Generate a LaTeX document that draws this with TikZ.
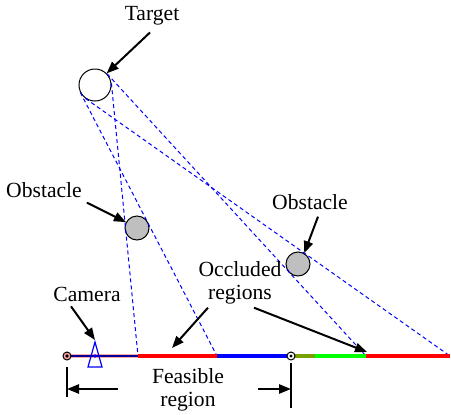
\documentclass[tikz,border=0pt]{standalone}
\usepackage{fontspec}
\setmainfont{Liberation Serif}
\usetikzlibrary{positioning, arrows.meta}
\definecolor{olivegrn}{RGB}{120,160,0}

\begin{document}
\begin{tikzpicture}[x=0.5pt,y=-0.5pt,>=Stealth,
    font=\rmfamily\fontsize{10.8}{11.8}\selectfont,
    callout/.style={-{Triangle[length=6pt,width=4.6pt]},line width=1pt},
    sight/.style={blue,line width=0.5pt,dash pattern=on 2pt off 1.5pt},
    ball/.style={circle,draw,line width=0.5pt,inner sep=0pt}]
  \useasboundingbox (0,0) rectangle (451,414);
  % target and obstacles
  \node[ball,fill=white,minimum size=16pt](target) at (95,85){};
  \node[ball,fill=gray!50,minimum size=12pt](obsA) at (137,228){};
  \node[ball,fill=gray!50,minimum size=12pt](obsB) at (298,264){};
  % points on the ground
  \coordinate (g0) at (67,356);
  \coordinate (g1) at (138,356);
  \coordinate (g2) at (217,356);
  \coordinate (g3) at (291,356);
  \coordinate (g3a) at (315,356);
  \coordinate (g4) at (366,356);
  \coordinate (g5) at (450,356);
  % lines of sight
  \draw[sight](target.6)--(g1);
  \draw[sight](target.207)--(g2);
  \draw[sight](target.43)--(g4);
  \draw[sight](target.235)--(g5);
  % ground
  \draw[red!35,line width=1.6pt](g0)--(g1);
  \draw[blue!60!black,line width=0.6pt](g0)--(g1);
  \draw[red,line width=1.6pt](g1)--(g2);
  \draw[blue,line width=1.6pt](g2)--(g3);
  \draw[olivegrn,line width=1.6pt](g3)--(g3a);
  \draw[green,line width=1.6pt](g3a)--(g4);
  \draw[red,line width=1.6pt](g4)--(g5);
  \filldraw[draw=black,fill=red!35,line width=0.5pt](g0) circle (2pt);
  \fill(g0) circle (0.9pt);
  \filldraw[draw=black,fill=white,line width=0.5pt](g3) circle (2pt);
  \fill(g3) circle (0.8pt);
  % camera
  \coordinate (cam) at (95,340);
  \draw[blue,line width=0.6pt](95,342)--(102,367)--(88,367)--cycle;
  \fill[blue](95,356) circle (0.9pt);
  % labels
  \node(lblTarget) at (152,16){Target};
  \draw[callout]([xshift=-1pt]lblTarget.south)--(target.45);
  \node(lblObsA) at (44,190){Obstacle};
  \draw[callout]([xshift=-1pt,yshift=1pt]lblObsA.south east)--(obsA.152);
  \node(lblObsB) at (310,202){Obstacle};
  \draw[callout]([xshift=4pt]lblObsB.south)--(obsB.60);
  \node[align=center](lblOcc) at (240,283){Occluded\\regions};
  \coordinate (occA) at (172,348);
  \coordinate (occB) at (367,352);
  \draw[callout]([xshift=-16pt,yshift=2pt]lblOcc.south)--(occA);
  \draw[callout]([xshift=7pt,yshift=2pt]lblOcc.south)--(occB);
  \node(lblCam) at (87,294){Camera};
  \draw[callout]([xshift=-8pt,yshift=1pt]lblCam.south)--(cam);
  % feasible region
  \node[align=center](lblFeas) at (188,390){Feasible\\region};
  \draw[line width=1pt](67,367)--(67,397);
  \draw[line width=1pt](291,363)--(291,408);
  \coordinate (fl) at (118,389);
  \coordinate (fr) at (258,389);
  \draw[callout](fl)--(67,389);
  \draw[callout](fr)--(291,389);
\end{tikzpicture}
\end{document}
